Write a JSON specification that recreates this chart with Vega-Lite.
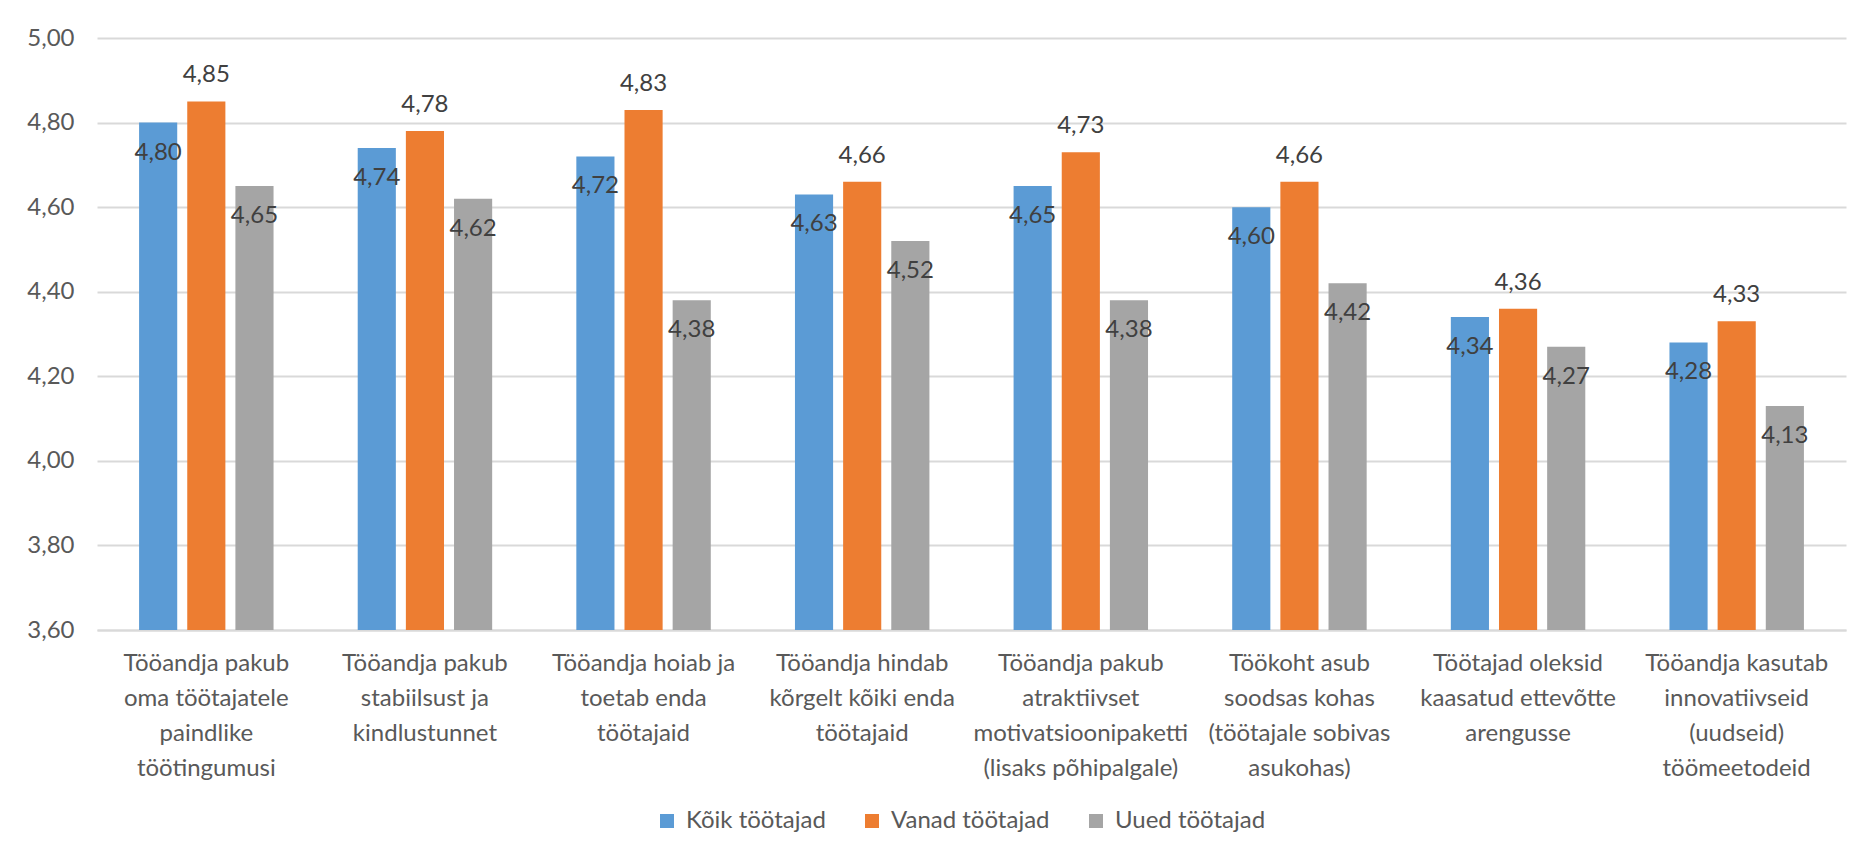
{
  "$schema": "https://vega.github.io/schema/vega-lite/v6.json",
  "width": 1749,
  "height": 592,
  "autosize": {"type": "none"},
  "padding": {"left": 97, "top": 38, "right": 28, "bottom": 224},
  "background": "white",
  "config": {
    "font": "Lato",
    "view": {"stroke": null},
    "locale": {
      "number": {"decimal": ",", "thousands": " ", "grouping": [3], "currency": ["", " €"]}
    }
  },
  "data": {
    "values": [
      {"kategooria": "Tööandja pakub|oma töötajatele|paindlike|töötingumusi", "grupp": "Kõik töötajad", "keskmine": 4.80},
      {"kategooria": "Tööandja pakub|oma töötajatele|paindlike|töötingumusi", "grupp": "Vanad töötajad", "keskmine": 4.85},
      {"kategooria": "Tööandja pakub|oma töötajatele|paindlike|töötingumusi", "grupp": "Uued töötajad", "keskmine": 4.65},
      {"kategooria": "Tööandja pakub|stabiilsust ja|kindlustunnet", "grupp": "Kõik töötajad", "keskmine": 4.74},
      {"kategooria": "Tööandja pakub|stabiilsust ja|kindlustunnet", "grupp": "Vanad töötajad", "keskmine": 4.78},
      {"kategooria": "Tööandja pakub|stabiilsust ja|kindlustunnet", "grupp": "Uued töötajad", "keskmine": 4.62},
      {"kategooria": "Tööandja hoiab ja|toetab enda|töötajaid", "grupp": "Kõik töötajad", "keskmine": 4.72},
      {"kategooria": "Tööandja hoiab ja|toetab enda|töötajaid", "grupp": "Vanad töötajad", "keskmine": 4.83},
      {"kategooria": "Tööandja hoiab ja|toetab enda|töötajaid", "grupp": "Uued töötajad", "keskmine": 4.38},
      {"kategooria": "Tööandja hindab|kõrgelt kõiki enda|töötajaid", "grupp": "Kõik töötajad", "keskmine": 4.63},
      {"kategooria": "Tööandja hindab|kõrgelt kõiki enda|töötajaid", "grupp": "Vanad töötajad", "keskmine": 4.66},
      {"kategooria": "Tööandja hindab|kõrgelt kõiki enda|töötajaid", "grupp": "Uued töötajad", "keskmine": 4.52},
      {"kategooria": "Tööandja pakub|atraktiivset|motivatsioonipaketti|(lisaks põhipalgale)", "grupp": "Kõik töötajad", "keskmine": 4.65},
      {"kategooria": "Tööandja pakub|atraktiivset|motivatsioonipaketti|(lisaks põhipalgale)", "grupp": "Vanad töötajad", "keskmine": 4.73},
      {"kategooria": "Tööandja pakub|atraktiivset|motivatsioonipaketti|(lisaks põhipalgale)", "grupp": "Uued töötajad", "keskmine": 4.38},
      {"kategooria": "Töökoht asub|soodsas kohas|(töötajale sobivas|asukohas)", "grupp": "Kõik töötajad", "keskmine": 4.60},
      {"kategooria": "Töökoht asub|soodsas kohas|(töötajale sobivas|asukohas)", "grupp": "Vanad töötajad", "keskmine": 4.66},
      {"kategooria": "Töökoht asub|soodsas kohas|(töötajale sobivas|asukohas)", "grupp": "Uued töötajad", "keskmine": 4.42},
      {"kategooria": "Töötajad oleksid|kaasatud ettevõtte|arengusse", "grupp": "Kõik töötajad", "keskmine": 4.34},
      {"kategooria": "Töötajad oleksid|kaasatud ettevõtte|arengusse", "grupp": "Vanad töötajad", "keskmine": 4.36},
      {"kategooria": "Töötajad oleksid|kaasatud ettevõtte|arengusse", "grupp": "Uued töötajad", "keskmine": 4.27},
      {"kategooria": "Tööandja kasutab|innovatiivseid|(uudseid)|töömeetodeid", "grupp": "Kõik töötajad", "keskmine": 4.28},
      {"kategooria": "Tööandja kasutab|innovatiivseid|(uudseid)|töömeetodeid", "grupp": "Vanad töötajad", "keskmine": 4.33},
      {"kategooria": "Tööandja kasutab|innovatiivseid|(uudseid)|töömeetodeid", "grupp": "Uued töötajad", "keskmine": 4.13}
    ]
  },
  "encoding": {
    "x": {
      "field": "kategooria",
      "type": "nominal",
      "sort": null,
      "scale": {"paddingInner": 0.385, "paddingOuter": 0.1925},
      "axis": {
        "title": null,
        "labelAngle": 0,
        "labelExpr": "split(datum.value, '|')",
        "labelFontSize": 24,
        "labelColor": "#595959",
        "labelLineHeight": 35,
        "labelPadding": 21,
        "labelLimit": 400,
        "ticks": false,
        "grid": false,
        "domainColor": "#d9d9d9",
        "domainWidth": 2
      }
    },
    "xOffset": {
      "field": "grupp",
      "type": "nominal",
      "sort": ["Kõik töötajad", "Vanad töötajad", "Uued töötajad"],
      "scale": {"paddingInner": 0.208}
    },
    "y": {
      "field": "keskmine",
      "type": "quantitative",
      "scale": {"domain": [3.6, 5.0], "zero": false, "nice": false},
      "axis": {
        "title": null,
        "values": [3.6, 3.8, 4.0, 4.2, 4.4, 4.6, 4.8, 5.0],
        "format": ".2f",
        "labelFontSize": 24,
        "labelColor": "#595959",
        "labelPadding": 23,
        "ticks": false,
        "domain": false,
        "grid": true,
        "gridColor": "#d9d9d9",
        "gridWidth": 2
      }
    }
  },
  "layer": [
    {
      "mark": {"type": "bar"},
      "encoding": {
        "y2": {"datum": 3.6},
        "color": {
          "field": "grupp",
          "type": "nominal",
          "scale": {
            "domain": ["Kõik töötajad", "Vanad töötajad", "Uued töötajad"],
            "range": ["#5b9bd5", "#ed7d31", "#a5a5a5"]
          },
          "legend": {
            "title": null,
            "orient": "none",
            "direction": "horizontal",
            "legendX": 558,
            "legendY": 771,
            "symbolType": "square",
            "symbolSize": 196,
            "symbolStrokeWidth": 0,
            "labelFontSize": 24,
            "labelColor": "#595959",
            "labelOffset": 7,
            "columnPadding": 34
          }
        }
      }
    },
    {
      "transform": [{"filter": "datum.grupp !== 'Vanad töötajad'"}],
      "mark": {"type": "text", "dy": 30, "fontSize": 24, "color": "#404040", "baseline": "middle"},
      "encoding": {"text": {"field": "keskmine", "type": "quantitative", "format": ".2f"}}
    },
    {
      "transform": [{"filter": "datum.grupp === 'Vanad töötajad'"}],
      "mark": {"type": "text", "dy": -26, "fontSize": 24, "color": "#404040", "baseline": "middle"},
      "encoding": {"text": {"field": "keskmine", "type": "quantitative", "format": ".2f"}}
    }
  ]
}
